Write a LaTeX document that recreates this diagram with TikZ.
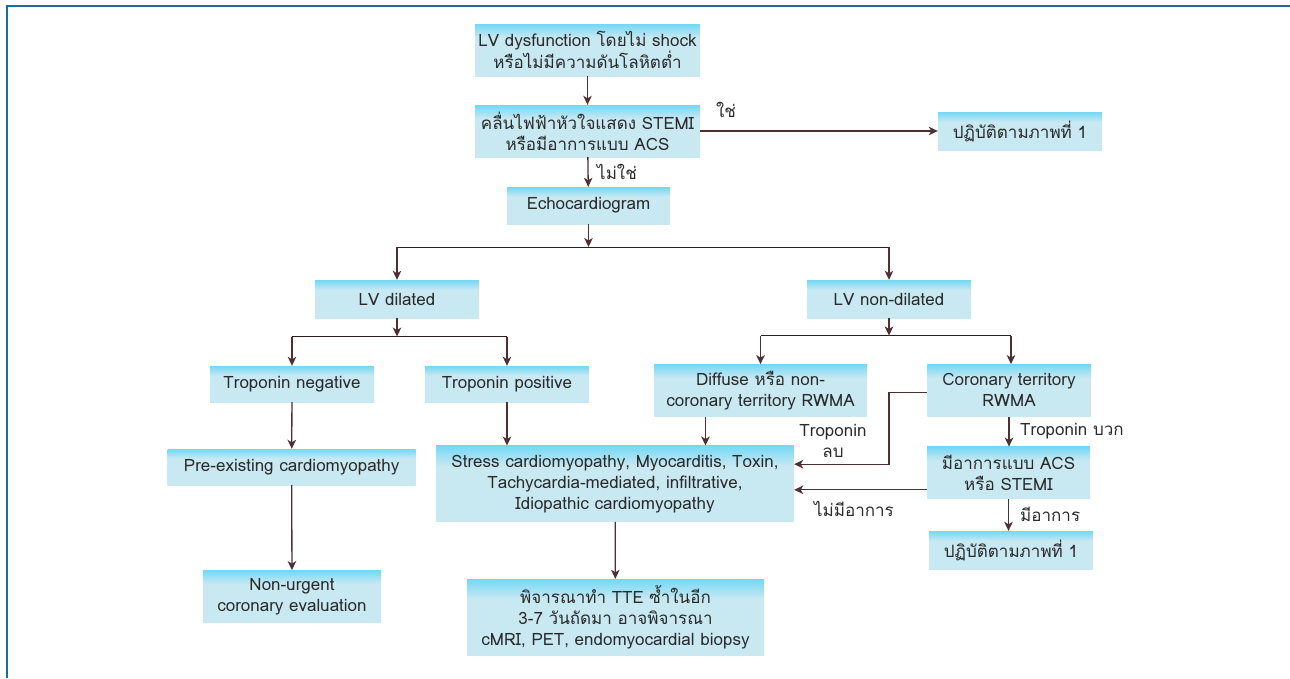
\documentclass[tikz,border=0pt]{standalone}
\usepackage{fontspec}
\setmainfont[Script=Thai]{Loma}
\usetikzlibrary{arrows.meta}
\definecolor{boxhi}{HTML}{74D8F5}
\definecolor{boxlo}{HTML}{C8E8F2}
\definecolor{linkcol}{HTML}{4E2F34}
\definecolor{framecol}{HTML}{1B6E93}
\definecolor{txtcol}{HTML}{2A2A2A}
\pgfdeclareverticalshading{boxshade}{100bp}{%
  color(0bp)=(boxlo); color(62bp)=(boxlo); color(75bp)=(boxhi); color(100bp)=(boxhi)}

\begin{document}
\begin{tikzpicture}[
      x=1pt,y=-1pt,
      every node/.style={inner sep=0pt,font=\fontsize{17}{21}\selectfont,text=txtcol},
      box/.style 2 args={shading=boxshade,minimum width=#1,minimum height=#2,align=center},
      link/.style={draw=linkcol,line width=1.3pt,-{Stealth[length=9pt,width=8.5pt,inset=2.5pt]}},
      split/.style={draw=linkcol!60!black,line width=1pt}
    ]
      \useasboundingbox (0,0) rectangle (1290,678);
      \draw[framecol,line width=2.5pt] (7,678) -- (7,6) -- (1290,6);

      \node[box={225pt}{52pt}] (dysf) at (587.5,50) {LV dysfunction โดยไม่ shock\\หรือไม่มีความดันโลหิตต่ำ};
      \node[box={225pt}{52pt}] (ecg) at (587.5,131) {คลื่นไฟฟ้าหัวใจแสดง STEMI\\หรือมีอาการแบบ ACS};
      \node[box={163pt}{37pt}] (echo) at (588.5,205.5) {Echocardiogram};
      \node[box={164pt}{38pt}] (figa) at (1020,131) {ปฏิบัติตามภาพที่ 1};
      \node[box={164pt}{38pt}] (dil) at (397,299) {LV dilated};
      \node[box={164pt}{38pt}] (nondil) at (889,299) {LV non-dilated};
      \node[box={164pt}{36pt}] (tneg) at (292,384) {Troponin negative};
      \node[box={164pt}{36pt}] (tpos) at (507,384) {Troponin positive};
      \node[box={213pt}{52pt}] (diffuse) at (760.5,390.3) {Diffuse หรือ non-\\coronary territory RWMA};
      \node[box={163.5pt}{52pt}] (coro) at (1009,390.3) {Coronary territory\\RWMA};
      \node[box={248pt}{36pt}] (preex) at (291.7,467) {Pre-existing cardiomyopathy};
      \node[box={358pt}{76pt}] (stress) at (615,483.7) {Stress cardiomyopathy, Myocarditis, Toxin,\\Tachycardia-mediated, infiltrative,\\Idiopathic cardiomyopathy};
      \node[box={163pt}{52pt}] (acs) at (1008.5,472.8) {มีอาการแบบ ACS\\หรือ STEMI};
      \node[box={164pt}{38pt}] (figb) at (1011,550) {ปฏิบัติตามภาพที่ 1};
      \node[box={178pt}{52pt}] (nonurg) at (292,596.3) {Non-urgent\\coronary evaluation};
      \node[box={297pt}{76pt}] (tte) at (615.5,617) {พิจารณาทำ TTE ซ้ำในอีก\\3-7 วันถัดมา อาจพิจารณา\\cMRI, PET, endomyocardial biopsy};

      % labels on connectors
      \node (yes) at (726,110) {ใช่};
      \node[anchor=west] (no) at (597,172) {ไม่ใช่};
      \node[align=center] (tropneg) at (833,441) {Troponin\\ลบ};
      \node[anchor=west] (troppos) at (1020,431) {Troponin บวก};
      \node (nosym) at (854,509) {ไม่มีอาการ};
      \node[anchor=west] (sym) at (1020,514) {มีอาการ};

      % split points
      \coordinate (s1) at (588.5,247);
      \coordinate (s2) at (397,336.5);
      \coordinate (s3) at (889,335.5);

      \draw[link] (dysf) -- (ecg);
      \draw[link] (ecg) -- (figa);
      \draw[link] (ecg) -- (echo);
      \draw[link] (echo) -- (s1);
      \draw[split] (s1 -| dil) -- (s1 -| nondil);
      \draw[link] (s1 -| dil) -- (dil);
      \draw[link] (s1 -| nondil) -- (nondil);

      \draw[link] (dil) -- (s2);
      \draw[split] (s2 -| tneg) -- (s2 -| tpos);
      \draw[link] (s2 -| tneg) -- (tneg);
      \draw[link] (s2 -| tpos) -- (tpos);
      \draw[link] (tneg) -- (preex);
      \draw[link] (preex) -- (nonurg);
      \draw[link] (tpos) -- (tpos |- stress.north);

      \draw[link] (nondil) -- (s3);
      \draw[split] (s3 -| diffuse) -- ([xshift=2pt]s3 -| coro) coordinate (s3r);
      \draw[link] (s3 -| diffuse) -- (diffuse);
      \draw[link] (s3r) -- (s3r |- coro.north);
      \draw[link] ([xshift=-55pt]diffuse.south) -- ([xshift=-55pt]diffuse.south |- stress.north);
      \draw[link] ([yshift=-2pt]coro.west) -- ++(-38,0) |- ([yshift=19.5pt]stress.east);
      \draw[link] (coro) -- (coro |- acs.north);
      \draw[link] ([yshift=-17pt]acs.west) -- ([yshift=-17pt]acs.west -| stress.east);
      \draw[link] (acs) -- (acs |- figb.north);
      \draw[link] (stress) -- (tte);
    \end{tikzpicture}
\end{document}
